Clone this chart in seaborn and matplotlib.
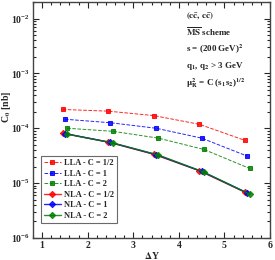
import numpy as np
import pandas as pd
import matplotlib
matplotlib.use('Agg')
import matplotlib.pyplot as plt
import seaborn as sns
from matplotlib.ticker import LogLocator, NullFormatter, MultipleLocator

# Data
dy_half = [1.45, 2.45, 3.45, 4.45, 5.45]
dy_one = [1.5, 2.5, 3.5, 4.5, 5.5]
dy_two = [1.55, 2.55, 3.55, 4.55, 5.55]

lla_half = [2.2e-4, 2.05e-4, 1.7e-4, 1.18e-4, 6.0e-5]
lla_one = [1.46e-4, 1.26e-4, 1.0e-4, 6.6e-5, 3.1e-5]
lla_two = [1.0e-4, 8.8e-5, 6.6e-5, 4.1e-5, 1.85e-5]

nla_half = [8.1e-5, 5.6e-5, 3.35e-5, 1.68e-5, 6.8e-6]
nla_one = [8.0e-5, 5.5e-5, 3.3e-5, 1.63e-5, 6.6e-6]
nla_two = [7.8e-5, 5.4e-5, 3.25e-5, 1.58e-5, 6.3e-6]

series = [
    ('LLA - C = 1/2', dy_half, lla_half, 'red', 's', '--'),
    ('LLA - C = 1', dy_one, lla_one, 'blue', 's', '--'),
    ('LLA - C = 2', dy_two, lla_two, 'green', 's', '--'),
    ('NLA - C = 1/2', dy_half, nla_half, 'red', 'D', '-'),
    ('NLA - C = 1', dy_one, nla_one, 'blue', 'D', '-'),
    ('NLA - C = 2', dy_two, nla_two, 'green', 'D', '-'),
]

sns.set_style('ticks')
plt.rcParams['font.family'] = ['Liberation Serif', 'DejaVu Serif']
plt.rcParams['font.weight'] = 'bold'
plt.rcParams['mathtext.fontset'] = 'stix'
plt.rcParams['mathtext.default'] = 'bf'

fig = plt.figure(figsize=(2.75, 2.6), dpi=100)
ax = fig.add_axes([0.12, 0.085, 0.862, 0.907])

for label, x, y, color, marker, ls in series:
    df = pd.DataFrame({'dy': x, 'c0': y})
    sns.lineplot(data=df, x='dy', y='c0', ax=ax, color=color, marker=marker,
                 linestyle=ls, linewidth=0.7 if ls == '--' else 1.0,
                 markersize=3.5 if marker == 's' else 3.2,
                 markeredgecolor=color, label=label, alpha=0.85)

ax.set_yscale('log')
ax.set_xlim(0.8, 6.0)
ax.set_ylim(1e-6, 2e-2)
ax.xaxis.set_major_locator(MultipleLocator(1))
ax.xaxis.set_minor_locator(MultipleLocator(0.2))
ax.yaxis.set_major_locator(LogLocator(base=10, numticks=10))
ax.yaxis.set_minor_locator(LogLocator(base=10, subs=np.arange(2, 10), numticks=20))
ax.yaxis.set_minor_formatter(NullFormatter())
ax.tick_params(which='both', direction='in', top=True, right=True, labelsize=7, width=0.8)
ax.tick_params(which='major', length=4, pad=2)
ax.tick_params(which='minor', length=2)
for sp in ax.spines.values():
    sp.set_linewidth(1.0)
    sp.set_color('#444444')

ax.set_xlabel(r'$\Delta$Y', fontsize=7, fontweight='bold', labelpad=0)
ax.set_ylabel(r'C$_0$ [nb]', fontsize=7, fontweight='bold')
ax.yaxis.label.set_va('center')
ax.yaxis.set_label_coords(-0.11, 0.555)

info = [r'$(c\bar{c},\,c\bar{c})$',
        r'$\overline{\mathbf{MS}}$ scheme',
        r's = (200 GeV)$^2$',
        r'q$_1$, q$_2$ > 3 GeV',
        r'$\mu_R^2$ = C (s$_1$s$_2$)$^{1/2}$']
for i, t in enumerate(info):
    ax.text(0.645, 0.945 - i * 0.072, t, transform=ax.transAxes, fontsize=6.5,
            fontweight='bold', va='center', ha='left')

leg = ax.legend(loc='lower left', bbox_to_anchor=(0.015, 0.045), fontsize=6,
                frameon=True, fancybox=False, handlelength=2.0, borderpad=0.4,
                labelspacing=0.3, handletextpad=0.4)
leg.get_frame().set_edgecolor('#444444')
leg.get_frame().set_linewidth(0.8)

fig.savefig('out.png', dpi=100)
